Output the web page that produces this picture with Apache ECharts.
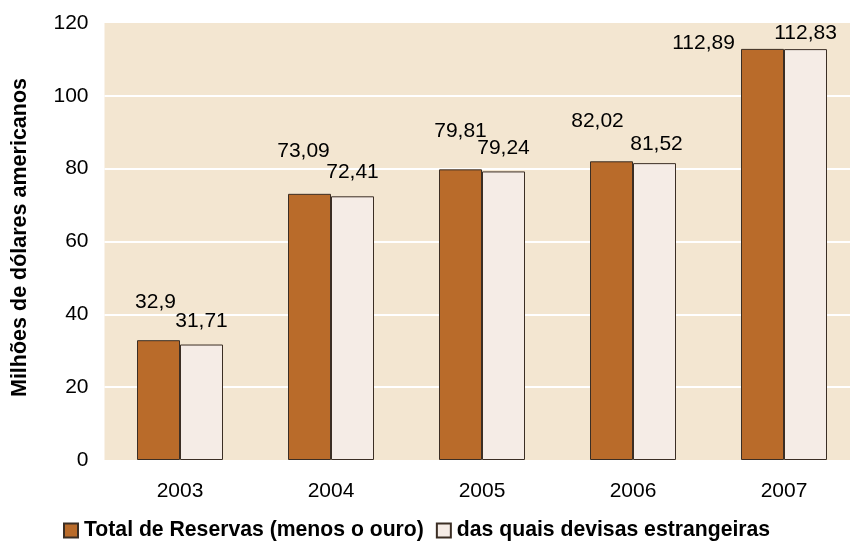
<!DOCTYPE html>
<html>
<head>
<meta charset="utf-8">
<script src="https://cdn.jsdelivr.net/npm/echarts@6/dist/echarts.min.js"></script>
<style>
  html, body { margin: 0; padding: 0; background: #ffffff; }
  #chart { width: 850px; height: 541px; }
</style>
</head>
<body>
<div id="chart"></div>
<script>
// Reservas internacionais, 2003–2007 (milhões de dólares americanos)
const years = ['2003', '2004', '2005', '2006', '2007'];
const totalReservas = [32.9, 73.09, 79.81, 82.02, 112.89];
const devisasEstrangeiras = [31.71, 72.41, 79.24, 81.52, 112.83];
const seriesNames = ['Total de Reservas (menos o ouro)', 'das quais devisas estrangeiras'];
const yTicks = [0, 20, 40, 60, 80, 100, 120];

// label nudges so the value tags sit where the author placed them
const totalLabelOffsets = [[-3, -27], [-6, -32], [0, -28], [-14, -30], [-59, 5]];
const devisasLabelOffsets = [[0, -13], [0, -14], [0, -13], [2, -8], [0, -5]];

const FONT = 'Liberation Sans, Arial, sans-serif';
const fmt = v => String(v).replace('.', ',');

function withLabels(values, offsets) {
  return values.map((v, i) => ({
    value: v,
    label: { offset: offsets[i] }
  }));
}

const chart = echarts.init(document.getElementById('chart'), null, { renderer: 'canvas' });
chart.setOption({
  animation: false,
  backgroundColor: '#ffffff',
  textStyle: { fontFamily: FONT },
  grid: {
    left: 104.5, width: 755, top: 23, bottom: 81,
    outerBoundsMode: 'none',
    containLabel: false,
    show: true, backgroundColor: '#F3E6D1', borderWidth: 0
  },
  legend: {
    left: 58, top: 515,
    itemWidth: 14, itemHeight: 14, itemGap: 12,
    icon: 'rect',
    textStyle: { fontFamily: FONT, fontSize: 21.2, fontWeight: 'bold', color: '#000', padding: [0, 0, 0, 1] },
    data: seriesNames
  },
  xAxis: {
    type: 'category',
    data: years,
    axisLine: { show: false },
    axisTick: { show: false },
    axisLabel: { fontSize: 21, color: '#000', margin: 21, fontFamily: FONT }
  },
  yAxis: {
    type: 'value',
    min: yTicks[0], max: yTicks[yTicks.length - 1], interval: 20,
    name: 'Milhões de dólares americanos',
    nameLocation: 'middle',
    nameGap: 73,
    nameTextStyle: { fontSize: 21.5, fontWeight: 'bold', color: '#000', fontFamily: FONT, padding: [0, 0, 0, 8] },
    axisLine: { show: false },
    axisTick: { show: false },
    axisLabel: { fontSize: 21, color: '#000', margin: 16, fontFamily: FONT },
    splitLine: { show: true, showMinLine: false, showMaxLine: false, lineStyle: { color: '#ffffff', width: 2 } }
  },
  series: [
    {
      name: seriesNames[0],
      type: 'bar',
      barWidth: 43,
      barGap: '0%',
      itemStyle: { color: '#B96B2A', borderColor: '#3B2E24', borderWidth: 1 },
      label: {
        show: true, position: 'top', distance: 0,
        fontSize: 21, color: '#000', fontFamily: FONT,
        formatter: p => fmt(p.value)
      },
      data: withLabels(totalReservas, totalLabelOffsets)
    },
    {
      name: seriesNames[1],
      type: 'bar',
      barWidth: 43,
      barGap: '0%',
      itemStyle: { color: '#F5ECE6', borderColor: '#3B2E24', borderWidth: 1 },
      label: {
        show: true, position: 'top', distance: 0,
        fontSize: 21, color: '#000', fontFamily: FONT,
        formatter: p => fmt(p.value)
      },
      data: withLabels(devisasEstrangeiras, devisasLabelOffsets)
    }
  ]
});
</script>
</body>
</html>
